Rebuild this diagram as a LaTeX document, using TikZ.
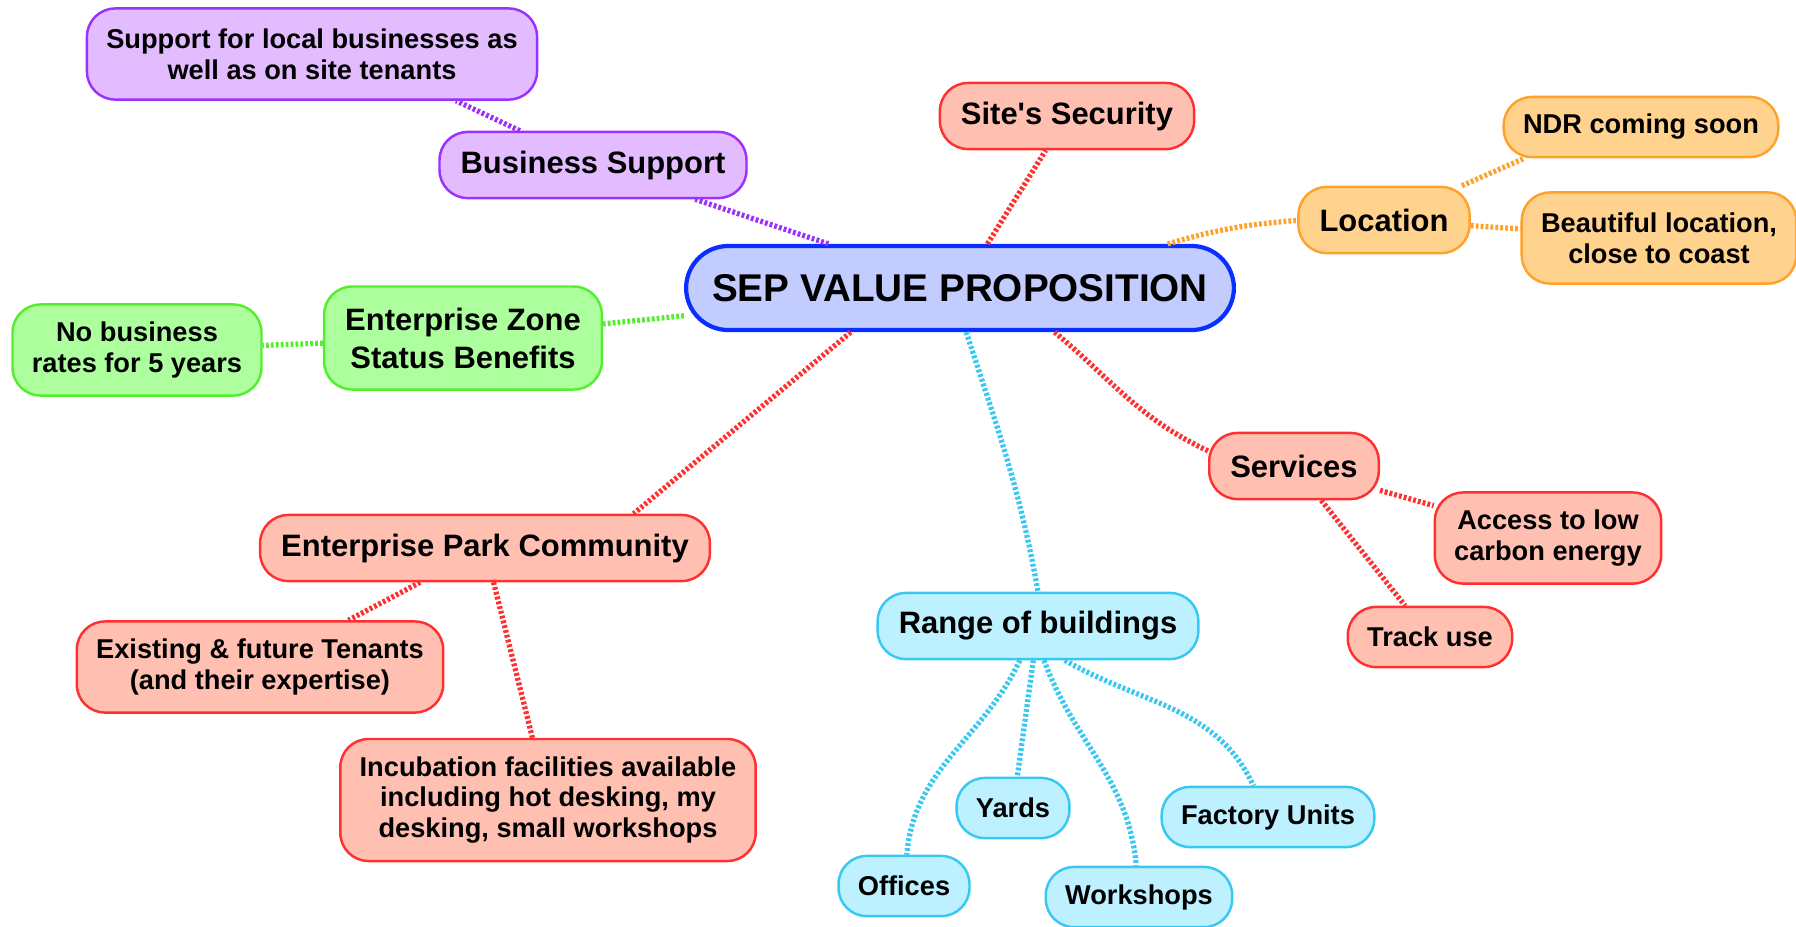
\documentclass[tikz,border=0pt]{standalone}
\usepackage{fontspec}
\setmainfont{Liberation Sans}
\usepackage{tikz}
\usetikzlibrary{positioning,calc}

\definecolor{purpleline}{HTML}{9B30FF}
\definecolor{purplefill}{HTML}{E2BCFF}
\definecolor{redline}{HTML}{FF3030}
\definecolor{redfill}{HTML}{FFC0B2}
\definecolor{orangeline}{HTML}{FFA22B}
\definecolor{orangefill}{HTML}{FFD28E}
\definecolor{greenline}{HTML}{55EE2E}
\definecolor{greenfill}{HTML}{ADFF9E}
\definecolor{blueline}{HTML}{0A2EFF}
\definecolor{bluefill}{HTML}{C2CCFF}
\definecolor{cyanline}{HTML}{38C8F2}
\definecolor{cyanfill}{HTML}{BDF1FF}

\begin{document}
\begin{tikzpicture}[x=0.01cm, y=-0.01cm,
        box/.style={draw=#1line, fill=#1fill, line width=0.7pt, rounded corners=8pt, align=center},
        idea/.style={box=#1, inner xsep=6pt, minimum height=18.8pt, font=\bfseries\fontsize{8.8}{10.8}\selectfont},
        leaf/.style={box=#1, inner xsep=5.5pt, minimum height=17.1pt, font=\bfseries\fontsize{7.74}{8.8}\selectfont},
        link/.style={draw=#1line, line width=1.5pt, dash pattern=on 0.8pt off 0.6pt}]
        \useasboundingbox (0,0) rectangle (1796,926);
        \node[box=blue, line width=1.2pt, rounded corners=12pt, inner xsep=7.4pt, minimum height=23.9pt, font=\bfseries\fontsize{11}{13}\selectfont] (sep) at (960,288) {SEP VALUE PROPOSITION};
        \node[idea=purple] (business) at (593,165) {Business Support};
        \node[leaf=purple, minimum height=25.9pt] (support) at (312,54) {Support for local businesses as\\well as on site tenants};
        \node[idea=red] (security) at (1067,116) {Site\textquotesingle s Security};
        \node[idea=orange] (location) at (1384,220) {Location};
        \node[leaf=orange] (ndr) at (1641,127) {NDR coming soon};
        \node[leaf=orange, minimum height=25.9pt] (coast) at (1659,238) {Beautiful location,\\close to coast};
        \node[idea=green, minimum height=29.3pt] (zone) at (463,338) {Enterprise Zone\\Status Benefits};
        \node[leaf=green, minimum height=25.9pt] (rates) at (137,350) {No business\\rates for 5 years};
        \node[idea=red] (services) at (1294,466) {Services};
        \node[leaf=red, minimum height=25.9pt] (energy) at (1548,538) {Access to low\\carbon energy};
        \node[leaf=red] (track) at (1430,637) {Track use};
        \node[idea=red] (community) at (485,548) {Enterprise Park Community};
        \node[leaf=red, minimum height=25.9pt] (tenants) at (260,667) {Existing \& future Tenants\\(and their expertise)};
        \node[leaf=red, minimum height=34.7pt] (incubation) at (548,800) {Incubation facilities available\\including hot desking, my\\desking, small workshops};
        \node[idea=cyan] (range) at (1038,626) {Range of buildings};
        \foreach \x/\y/\name/\txt in {1013/808/yards/Yards, 1268/817/factory/Factory Units, 904/886/offices/Offices, 1139/897/workshops/Workshops}
            {\node[leaf=cyan] (\name) at (\x,\y) {\txt};}

        \draw[link=purple] (sep) -- (business);
        \draw[link=purple] (business) -- (support.-18);
        \draw[link=red] (sep) -- (security);
        \draw[link=orange] (sep.12) to[bend left=6] (location);
        \draw[link=orange] (location) -- (ndr.195);
        \draw[link=orange] (location) -- (coast);
        \draw[link=green] (sep) -- (zone);
        \draw[link=green] (zone) -- (rates);
        \draw[link=red] (sep.-25) to[out=-40, in=155] (services.170);
        \foreach \b in {energy,track}{\draw[link=red] (services) -- (\b);}
        \draw[link=red] (sep.202) -- (community.13);
        \foreach \b in {tenants,incubation}{\draw[link=red] (community) -- (\b);}
        \draw[link=cyan] (sep.-82) to[out=-72, in=100] (range.north);
        \draw[link=cyan] (range.-118) to[out=-115, in=85] (offices);
        \draw[link=cyan] (range) -- (yards);
        \draw[link=cyan] (range.-80) to[out=-70, in=95] (workshops);
        \draw[link=cyan] (range.-52) to[out=-30, in=115] (factory);
\end{tikzpicture}
\end{document}
